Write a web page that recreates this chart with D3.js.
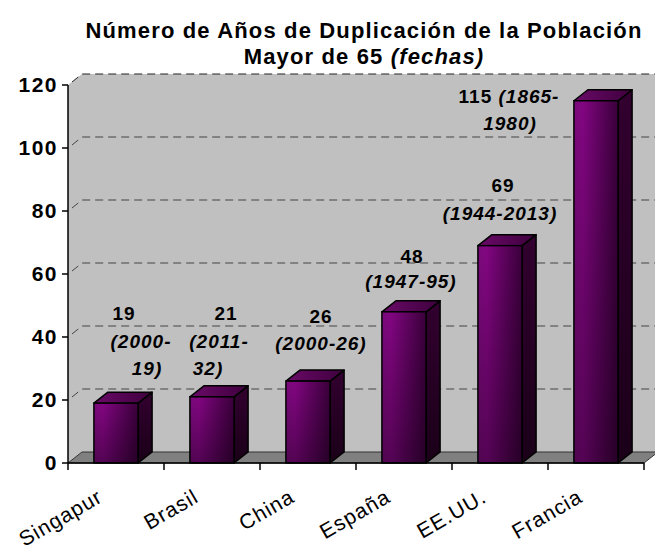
<!DOCTYPE html>
<html><head><meta charset="utf-8">
<script src="https://cdn.jsdelivr.net/npm/d3@7/dist/d3.min.js"></script>
<style>body{margin:0;background:#fff}svg{display:block}</style>
</head><body>
<script>
const categories = ["Singapur","Brasil","China","España","EE.UU.","Francia"];
const values = [19,21,26,48,69,115];
const valueLabels = ["19","21","26","48","69","115"];
const dateLabels = ["(2000-19)","(2011-32)","(2000-26)","(1947-95)","(1944-2013)","(1865-1980)"];
const yTicks = [0,20,40,60,80,100,120];

(function(){
const W=655,H=550;
const svg=d3.select("body").append("svg").attr("width",W).attr("height",H)
  .style("font-family","'Liberation Sans', Arial, sans-serif");

const pl=68,pr=644,pb=463,pt=85;
const dx=14,dy=-11;
const x=d3.scaleBand().domain(categories).range([pl,pr]).paddingInner(0.54).paddingOuter(0.27);
const xb=d3.scaleBand().domain(categories).range([pl,pr]).padding(0);
const y=d3.scaleLinear().domain([0,120]).range([pb,pt]);

const defs=svg.append("defs");
const gf=defs.append("linearGradient").attr("id","gf").attr("x1",0).attr("y1",0).attr("x2",1).attr("y2",0);
gf.append("stop").attr("offset","0%").attr("stop-color","#7a0a7a");
gf.append("stop").attr("offset","20%").attr("stop-color","#820582");
gf.append("stop").attr("offset","100%").attr("stop-color","#3a003a");
const gv=defs.append("linearGradient").attr("id","gv").attr("x1",0).attr("y1",0).attr("x2",0).attr("y2",1);
gv.append("stop").attr("offset","0%").attr("stop-color","#000").attr("stop-opacity",0);
gv.append("stop").attr("offset","100%").attr("stop-color","#000").attr("stop-opacity",0.35);
const gs=defs.append("linearGradient").attr("id","gs").attr("x1",0).attr("y1",0).attr("x2",0).attr("y2",1);
gs.append("stop").attr("offset","0%").attr("stop-color","#32002f");
gs.append("stop").attr("offset","100%").attr("stop-color","#1a0018");
const gt=defs.append("linearGradient").attr("id","gt").attr("x1",0).attr("y1",0).attr("x2",1).attr("y2",0);
gt.append("stop").attr("offset","0%").attr("stop-color","#6a0a68");
gt.append("stop").attr("offset","100%").attr("stop-color","#3e003c");

const yTop=y(120);
svg.append("path").attr("d",`M${pl},${pb}L${pl},${yTop}L${pl+dx},${yTop+dy}L${pl+dx},${pb+dy}Z`).attr("fill","#c0c0c0");
svg.append("rect").attr("x",pl+dx).attr("y",yTop+dy).attr("width",W-pl-dx).attr("height",pb-yTop).attr("fill","#c0c0c0");

const grid=svg.append("g");
yTicks.filter(t=>t>0).forEach(t=>{
  const yy=y(t);
  grid.append("path").attr("d",`M${pl+4},${yy-3}L${pl+dx},${yy+dy}L${W},${yy+dy}`)
    .attr("fill","none").attr("stroke",t===120?"#222":"#444").attr("stroke-width",1)
    .attr("stroke-dasharray","8,5");
});

svg.append("path").attr("d",`M${pl},${pb}L${pl+dx},${pb+dy}L${pr+dx},${pb+dy}L${pr},${pb}Z`)
  .attr("fill","#808080").attr("stroke","#333").attr("stroke-width",1);

const bars=svg.append("g").selectAll("g").data(categories).join("g");
bars.each(function(c,i){
  const g=d3.select(this);
  const x0=x(c),w=x.bandwidth(),yv=y(values[i]);
  g.append("path").attr("d",`M${x0+w},${yv}L${x0+w+dx},${yv+dy}L${x0+w+dx},${pb+dy}L${x0+w},${pb}Z`)
    .attr("fill","url(#gs)").attr("stroke","#000").attr("stroke-width",1.5).attr("stroke-linejoin","round");
  g.append("path").attr("d",`M${x0},${yv}L${x0+dx},${yv+dy}L${x0+w+dx},${yv+dy}L${x0+w},${yv}Z`)
    .attr("fill","url(#gt)").attr("stroke","#000").attr("stroke-width",1.5).attr("stroke-linejoin","round");
  g.append("rect").attr("x",x0).attr("y",yv).attr("width",w).attr("height",pb-yv)
    .attr("fill","url(#gf)");
  g.append("rect").attr("x",x0).attr("y",yv).attr("width",w).attr("height",pb-yv)
    .attr("fill","url(#gv)").attr("stroke","#000").attr("stroke-width",1.5);
});

svg.append("line").attr("x1",pl).attr("x2",pl).attr("y1",yTop).attr("y2",pb).attr("stroke","#000").attr("stroke-width",1.5);
svg.append("line").attr("x1",pl).attr("x2",pr).attr("y1",pb).attr("y2",pb).attr("stroke","#000").attr("stroke-width",1.5);
const yAx=svg.append("g");
yTicks.forEach(t=>{
  yAx.append("line").attr("x1",pl-6).attr("x2",pl).attr("y1",y(t)).attr("y2",y(t)).attr("stroke","#000").attr("stroke-width",1.5);
  yAx.append("text").attr("x",pl-10).attr("y",y(t)+7).attr("text-anchor","end")
    .attr("font-size",21).attr("letter-spacing",1.5).attr("font-weight","bold").text(t);
});
const xTickPos=categories.map(c=>xb(c)).concat([pr]);
xTickPos.forEach(p=>{
  svg.append("line").attr("x1",p).attr("x2",p).attr("y1",pb).attr("y2",pb+7).attr("stroke","#000").attr("stroke-width",1.5);
});
categories.forEach(c=>{
  const cx=xb(c)+xb.bandwidth()/2-12, cy=pb+38;
  svg.append("text").attr("transform",`translate(${cx},${cy}) rotate(-30)`)
    .attr("text-anchor","end").attr("font-size",21).attr("letter-spacing",1).text(c);
});

// label lines: [text, style, dx from bar centre, dy from first baseline, italic tail]
const lab=svg.append("g").attr("font-size",19).attr("letter-spacing",1).attr("font-weight","bold").attr("text-anchor","middle");
const labelLayout=[
  [[valueLabels[0],"n",1,0],["(2000-","i",18,28],["19)","i",24,55]],
  [[valueLabels[1],"n",7,0],["(2011-","i",0,28],["32)","i",-11,55]],
  [[valueLabels[2],"n",6,0],[dateLabels[2],"i",6,27]],
  [[valueLabels[3],"n",1,0],[dateLabels[3],"i",0,25]],
  [[valueLabels[4],"n",-4,0],[dateLabels[4],"i",-7,28]],
  [[valueLabels[5]+" ","n",-94,0,"(1865-"],["1980)","i",-93,27]]
];
const labelBase=[320,320,323,263,192,103];
categories.forEach((c,i)=>{
  const cx=x(c)+x.bandwidth()/2+dx/2;
  labelLayout[i].forEach(l=>{
    const t=lab.append("text").attr("x",cx+l[2]).attr("y",labelBase[i]+l[3]);
    if(l[4]){ t.append("tspan").text(l[0]); t.append("tspan").attr("font-style","italic").text(l[4]); }
    else t.attr("font-style",l[1]==="i"?"italic":"normal").text(l[0]);
  });
});

const title=svg.append("g").attr("font-size",22).attr("letter-spacing",1.15).attr("font-weight","bold").attr("text-anchor","middle");
title.append("text").attr("x",364).attr("y",38).text("Número de Años de Duplicación de la Población");
const t2=title.append("text").attr("x",364).attr("y",64);
t2.append("tspan").text("Mayor de 65 ");
t2.append("tspan").attr("font-style","italic").text("(fechas)");
})();
</script>
</body></html>
